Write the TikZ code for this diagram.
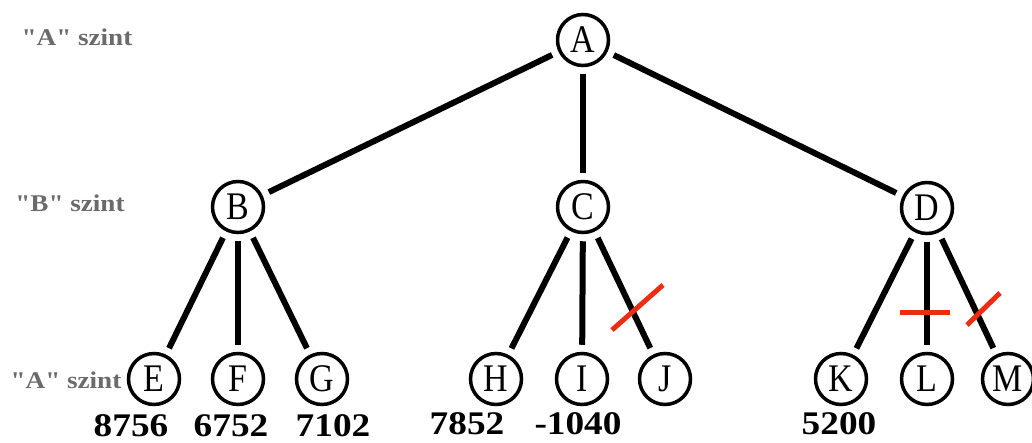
\documentclass[tikz,border=0pt]{standalone}
\usepackage{fontspec}
\usepackage{graphicx}
\setmainfont{Liberation Serif}
\newfontfamily\rawserif{Liberation Serif}[Ligatures=TeXOff]
\begin{document}
\begin{tikzpicture}[x=1pt,y=-1pt,
  vert/.style={draw,circle,line width=3.5pt,minimum size=51pt,inner sep=0pt,font=\fontsize{34}{34}\selectfont},
  edge/.style={line width=6pt,shorten <=7pt,shorten >=7pt},
  val/.style={font=\bfseries\fontsize{33}{33}\selectfont,inner sep=0pt},
  lvl/.style={font=\rawserif\bfseries\fontsize{24}{24}\selectfont,text=black!58,inner sep=0pt},
  cut/.style={line width=5pt,draw={rgb,255:red,235;green,45;blue,20}}]
\useasboundingbox (0,0) rectangle (1032,442);
\newcommand{\tall}[1]{\scalebox{1}[1.15]{#1}}
\newcommand{\wide}[1]{\scalebox{1.13}[1]{#1}}
\node[vert] (A) at (583,40) {\tall{A}};
\node[vert] (B) at (238,207) {\tall{B}};
\node[vert] (C) at (583,207) {\tall{C}};
\node[vert] (D) at (927,208) {\tall{D}};
\node[vert] (E) at (154,379) {\tall{E}};
\node[vert] (F) at (238,379) {\tall{F}};
\node[vert] (G) at (322,379) {\tall{G}};
\node[vert] (H) at (496,379) {\tall{H}};
\node[vert] (I) at (582,379) {\tall{I}};
\node[vert] (J) at (665,379) {\tall{J}};
\node[vert] (K) at (841,379) {\tall{K}};
\node[vert] (L) at (927,379) {\tall{L}};
\node[vert] (M) at (1008,379) {\tall{M}};
\draw[edge] (A) -- (B);
\draw[edge] (A) -- (C);
\draw[edge] (A) -- (D);
\draw[edge] (B) -- (E);
\draw[edge] (B) -- (F);
\draw[edge] (B) -- (G);
\draw[edge] (C) -- (H);
\draw[edge] (C) -- (I);
\draw[edge] (C) -- (J);
\draw[edge] (D) -- (K);
\draw[edge] (D) -- (L);
\draw[edge] (D) -- (M);
\draw[cut] (612,330) -- (663,285);
\draw[cut] (900,312) -- (950,312);
\draw[cut] (967,325) -- (1000,293);
\node[val] (vE) at (131,426) {\wide{8756}};
\node[val] (vF) at (231,426) {\wide{6752}};
\node[val] (vG) at (333,426) {\wide{7102}};
\node[val] (vH) at (467,424) {\wide{7852}};
\node[val] (vI) at (578,424) {\wide{-1040}};
\node[val] (vK) at (839,424) {\wide{5200}};
\node[lvl] (l1) at (77,37) {\wide{"A" szint}};
\node[lvl] (l2) at (70,203) {\wide{"B" szint}};
\node[lvl] (l3) at (66,380) {\wide{"A" szint}};
\end{tikzpicture}
\end{document}
